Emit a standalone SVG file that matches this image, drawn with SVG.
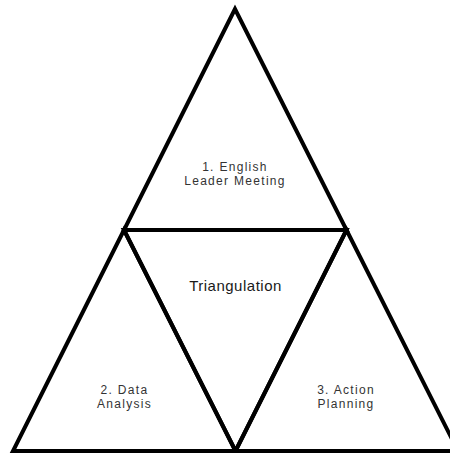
<svg xmlns="http://www.w3.org/2000/svg" width="450" height="453" viewBox="0 0 450 453">
<style>
.tri{fill:none;stroke:#000;stroke-width:4;stroke-linejoin:miter;stroke-miterlimit:10}
.lbl{font-family:"Liberation Sans",Arial,sans-serif;font-size:12px;fill:#333;text-anchor:middle;letter-spacing:1.3px}
.ctr{font-family:"Liberation Sans",Arial,sans-serif;font-size:15px;fill:#1a1a1a;text-anchor:middle;letter-spacing:0.5px}
</style>
<rect width="450" height="453" fill="#fff"/>
<g id="top">
<polygon class="tri" points="235,9 124,230 346.5,230"/>
<text class="lbl" x="235" y="171">1. English</text>
<text class="lbl" x="235" y="184.5">Leader Meeting</text>
</g>
<g id="left">
<polygon class="tri" points="124,230 13,451 235.5,451"/>
<text class="lbl" x="124.5" y="394">2. Data</text>
<text class="lbl" x="124.5" y="407.5">Analysis</text>
</g>
<g id="right">
<polygon class="tri" points="346.5,230 235.5,451 458,451"/>
<text class="lbl" x="346" y="394">3. Action</text>
<text class="lbl" x="346" y="407.5">Planning</text>
</g>
<g id="center">
<polygon class="tri" points="124,230 346.5,230 235.5,451"/>
<text class="ctr" x="235.5" y="290.5">Triangulation</text>
</g>
<g id="connectors"></g>
</svg>
